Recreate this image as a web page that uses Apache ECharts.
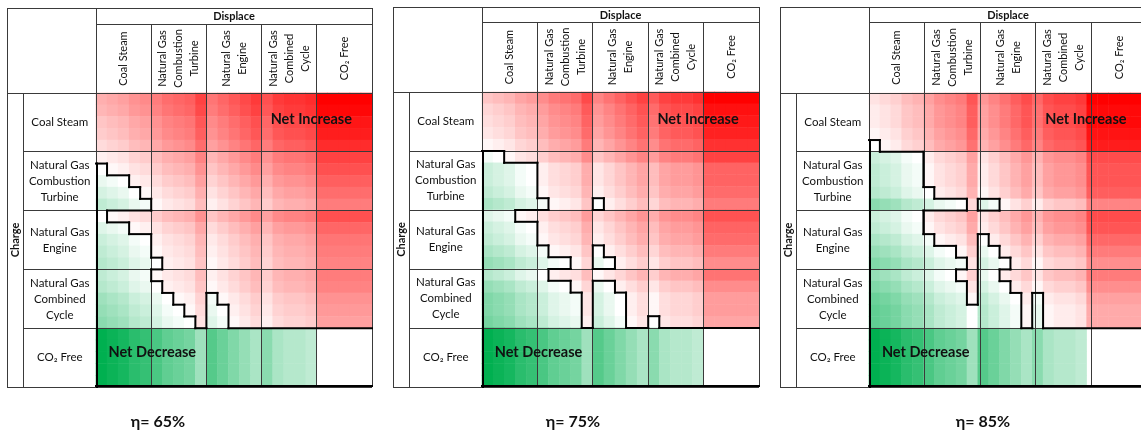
<!DOCTYPE html>
<html>
<head>
<meta charset="utf-8">
<script src="https://cdn.jsdelivr.net/npm/echarts@6/dist/echarts.min.js"></script>
<style>html,body{margin:0;padding:0;background:#fff}#c{width:1141px;height:436px}</style>
</head>
<body>
<div id="c"></div>
<script>
// ---- labels ----
const blockLabels = ['Coal Steam', 'Natural Gas\nCombustion\nTurbine', 'Natural Gas\nEngine', 'Natural Gas\nCombined\nCycle', 'CO\u2082 Free'];
const panelTitles = ['\u03b7= 65%', '\u03b7= 75%', '\u03b7= 85%'];
const displaceTitle = 'Displace';
const chargeTitle = 'Charge';
const increaseLabel = 'Net Increase';
const decreaseLabel = 'Net Decrease';

// ---- net CO2 change per sub-cell (0.05 t/MWh units), rows = charge, cols = displace ----
const co2Row = [-24,-23,-22,-20,-19,-17,-15,-14,-13,-9,-16,-14,-12,-10,-8,-11,-8,-7,-7,-6,null,null,null,null,null];

const grid65 = [
[11,12,13,15,16,18,20,21,22,26,19,21,23,25,27,24,27,28,28,29,35,35,35,35,35],
[10,11,12,14,15,17,19,20,21,25,18,20,22,24,26,23,26,27,27,28,34,34,34,34,34],
[8,9,10,12,13,15,17,18,19,23,16,18,20,22,24,21,24,25,25,26,32,32,32,32,32],
[7,8,9,11,12,14,16,17,18,22,15,17,19,21,23,20,23,24,24,25,31,31,31,31,31],
[5,6,7,9,10,12,14,15,16,20,13,15,17,19,21,18,21,22,22,23,29,29,29,29,29],
[2,3,4,6,7,9,11,12,13,17,10,12,14,16,18,15,18,19,19,20,26,26,26,26,26],
[0,1,2,4,5,7,9,10,11,15,8,10,12,14,16,13,16,17,17,18,24,24,24,24,24],
[-2,-1,0,2,3,5,7,8,9,13,6,8,10,12,14,11,14,15,15,16,22,22,22,22,22],
[-4,-3,-2,0,1,3,5,6,7,11,4,6,8,10,12,9,12,13,13,14,20,20,20,20,20],
[-6,-5,-4,-2,-1,1,3,4,5,9,2,4,6,8,10,7,10,11,11,12,18,18,18,18,18],
[0,1,2,4,5,7,9,10,11,15,8,10,12,14,16,13,16,17,17,18,24,24,24,24,24],
[-3,-2,-1,1,2,4,6,7,8,12,5,7,9,11,13,10,13,14,14,15,21,21,21,21,21],
[-5,-4,-3,-1,0,2,4,5,6,10,3,5,7,9,11,8,11,12,12,13,19,19,19,19,19],
[-6,-5,-4,-2,-1,1,3,4,5,9,2,4,6,8,10,7,10,11,11,12,18,18,18,18,18],
[-7,-6,-5,-3,-2,0,2,3,4,8,1,3,5,7,9,6,9,10,10,11,17,17,17,17,17],
[-6,-5,-4,-2,-1,1,3,4,5,9,2,4,6,8,10,7,10,11,11,12,18,18,18,18,18],
[-7,-6,-5,-3,-2,0,2,3,4,8,1,3,5,7,9,6,9,10,10,11,17,17,17,17,17],
[-9,-8,-7,-5,-4,-2,0,1,2,6,-1,1,3,5,7,4,7,8,8,9,15,15,15,15,15],
[-10,-9,-8,-6,-5,-3,-1,0,1,5,-2,0,2,4,6,3,6,7,7,8,14,14,14,14,14],
[-11,-10,-9,-7,-6,-4,-2,-1,0,4,-3,-1,1,3,5,2,5,6,6,7,13,13,13,13,13],
co2Row, co2Row, co2Row, co2Row, co2Row
];

const grid75 = [
[7,8,9,11,12,14,16,17,18,22,15,17,19,21,23,20,23,24,24,25,31,31,31,31,31],
[5,6,7,9,10,12,14,15,16,20,13,15,17,19,21,18,21,22,22,23,29,29,29,29,29],
[4,5,6,8,9,11,13,14,15,19,12,14,16,18,20,17,20,21,21,22,28,28,28,28,28],
[3,4,5,7,8,10,12,13,14,18,11,13,15,17,19,16,19,20,20,21,27,27,27,27,27],
[1,2,3,5,6,8,10,11,12,16,9,11,13,15,17,14,17,18,18,19,25,25,25,25,25],
[-1,0,1,3,4,6,8,9,10,14,7,9,11,13,15,12,15,16,16,17,23,23,23,23,23],
[-5,-4,-3,-1,0,2,4,5,6,10,3,5,7,9,11,8,11,12,12,13,19,19,19,19,19],
[-5,-4,-3,-1,0,2,4,5,6,10,3,5,7,9,11,8,11,12,12,13,19,19,19,19,19],
[-6,-5,-4,-2,-1,1,3,4,5,9,2,4,6,8,10,7,10,11,11,12,18,18,18,18,18],
[-8,-7,-6,-4,-3,-1,1,2,3,7,0,2,4,6,8,5,8,9,9,10,16,16,16,16,16],
[-3,-2,-1,1,2,4,6,7,8,12,5,7,9,11,13,10,13,14,14,15,21,21,21,21,21],
[-5,-4,-3,-1,0,2,4,5,6,10,3,5,7,9,11,8,11,12,12,13,19,19,19,19,19],
[-6,-5,-4,-2,-1,1,3,4,5,9,2,4,6,8,10,7,10,11,11,12,18,18,18,18,18],
[-8,-7,-6,-4,-3,-1,1,2,3,7,0,2,4,6,8,5,8,9,9,10,16,16,16,16,16],
[-10,-9,-8,-6,-5,-3,-1,0,1,5,-2,0,2,4,6,3,6,7,7,8,14,14,14,14,14],
[-7,-6,-5,-3,-2,0,2,3,4,8,1,3,5,7,9,6,9,10,10,11,17,17,17,17,17],
[-10,-9,-8,-6,-5,-3,-1,0,1,5,-2,0,2,4,6,3,6,7,7,8,14,14,14,14,14],
[-12,-11,-10,-8,-7,-5,-3,-2,-1,3,-4,-2,0,2,4,1,4,5,5,6,12,12,12,12,12],
[-12,-11,-10,-8,-7,-5,-3,-2,-1,3,-4,-2,0,2,4,1,4,5,5,6,12,12,12,12,12],
[-13,-12,-11,-9,-8,-6,-4,-3,-2,2,-5,-3,-1,1,3,0,3,4,4,5,11,11,11,11,11],
co2Row, co2Row, co2Row, co2Row, co2Row
];

const grid85 = [
[3,4,5,7,8,10,12,13,14,18,11,13,15,17,19,16,19,20,20,21,27,27,27,27,27],
[2,3,4,6,7,9,11,12,13,17,10,12,14,16,18,15,18,19,19,20,26,26,26,26,26],
[2,3,4,6,7,9,11,12,13,17,10,12,14,16,18,15,18,19,19,20,26,26,26,26,26],
[1,2,3,5,6,8,10,11,12,16,9,11,13,15,17,14,17,18,18,19,25,25,25,25,25],
[0,1,2,4,5,7,9,10,11,15,8,10,12,14,16,13,16,17,17,18,24,24,24,24,24],
[-5,-4,-3,-1,0,2,4,5,6,10,3,5,7,9,11,8,11,12,12,13,19,19,19,19,19],
[-6,-5,-4,-2,-1,1,3,4,5,9,2,4,6,8,10,7,10,11,11,12,18,18,18,18,18],
[-6,-5,-4,-2,-1,1,3,4,5,9,2,4,6,8,10,7,10,11,11,12,18,18,18,18,18],
[-7,-6,-5,-3,-2,0,2,3,4,8,1,3,5,7,9,6,9,10,10,11,17,17,17,17,17],
[-11,-10,-9,-7,-6,-4,-2,-1,0,4,-3,-1,1,3,5,2,5,6,6,7,13,13,13,13,13],
[-5,-4,-3,-1,0,2,4,5,6,10,3,5,7,9,11,8,11,12,12,13,19,19,19,19,19],
[-6,-5,-4,-2,-1,1,3,4,5,9,2,4,6,8,10,7,10,11,11,12,18,18,18,18,18],
[-8,-7,-6,-4,-3,-1,1,2,3,7,0,2,4,6,8,5,8,9,9,10,16,16,16,16,16],
[-10,-9,-8,-6,-5,-3,-1,0,1,5,-2,0,2,4,6,3,6,7,7,8,14,14,14,14,14],
[-12,-11,-10,-8,-7,-5,-3,-2,-1,3,-4,-2,0,2,4,1,4,5,5,6,12,12,12,12,12],
[-10,-9,-8,-6,-5,-3,-1,0,1,5,-2,0,2,4,6,3,6,7,7,8,14,14,14,14,14],
[-12,-11,-10,-8,-7,-5,-3,-2,-1,3,-4,-2,0,2,4,1,4,5,5,6,12,12,12,12,12],
[-14,-13,-12,-10,-9,-7,-5,-4,-3,1,-6,-4,-2,0,2,-1,2,3,3,4,10,10,10,10,10],
[-15,-14,-13,-11,-10,-8,-6,-5,-4,0,-7,-5,-3,-1,1,-2,1,2,2,3,9,9,9,9,9],
[-15,-14,-13,-11,-10,-8,-6,-5,-4,0,-7,-5,-3,-1,1,-2,1,2,2,3,9,9,9,9,9],
co2Row, co2Row, co2Row, co2Row, co2Row
];

const panelGrids = [grid65, grid75, grid85];

// ---- layout (px) ----
const PANEL_LEFT = [7, 393, 780];
const PANEL_TOP = [8, 7, 7];
const DISP_LINE = [24, 22, 22];
const HEAD_BOTTOM = [93, 92, 93];
const TABLE_BOTTOM = [387, 387, 387];
const GRID_W = [276, 277, 278];
const LABEL_W = 89, CHARGE_W = 16.5;
const TITLE_X = [158, 573, 983], TITLE_Y = 422;
const FONT = "Lato, 'Liberation Sans', sans-serif";
const LINE_COLOR = '#3a3a3a';
const N = 25, NB = 5;

const chart = echarts.init(document.getElementById('c'));
const idx = Array.from({length: N}, (_, i) => i);
const crisp = c => Math.round(c - 0.5) + 0.5;

const elements = [];
function L(x1, y1, x2, y2) {
  elements.push({type: 'line', z: 10, silent: true,
    shape: {x1, y1, x2, y2}, style: {stroke: LINE_COLOR, lineWidth: 1}});
}
function T(x, y, text, font, rot, lh) {
  elements.push({type: 'text', z: 30, silent: true, x, y, rotation: rot || 0,
    style: {text, font, fill: '#111', align: 'center', verticalAlign: 'middle',
      textAlign: 'center', textVerticalAlign: 'middle', lineHeight: lh || 16}});
}

// sign boundaries, merged into runs
function edgesOf(g) {
  const side = (i, j) => (g[i][j] !== null && g[i][j] > 0) ? 1 : 0;
  const out = [];
  for (let b = 1; b <= N; b++) {           // bottom of row b-1
    let start = -1;
    for (let j = 0; j <= N; j++) {
      let on = false;
      if (j < N) on = side(b - 1, j) !== (b < N ? side(b, j) : 1);
      if (on && start < 0) start = j;
      if (!on && start >= 0) { out.push([start, b - 1, 0, j]); start = -1; }
    }
  }
  for (let b = 0; b < N; b++) {            // left of column b
    let start = -1;
    for (let i = 0; i <= N; i++) {
      let on = false;
      if (i < N) on = (b === 0 ? 1 : side(i, b - 1)) !== side(i, b);
      if (on && start < 0) start = i;
      if (!on && start >= 0) { out.push([b, start, 1, i]); start = -1; }
    }
  }
  return out;
}

function renderEdge(params, api) {
  const a = api.value(0), b = api.value(1), k = api.value(2), e = api.value(3);
  const p = api.coord([a, b]);
  const s = api.size([1, 1]);
  const x0 = p[0] - s[0] / 2, y0 = p[1] - s[1] / 2;
  let shape;
  if (k === 0) {
    let y = y0 + s[1];
    if (b === N - 1) y -= 1;               // keep the outer edge inside the grid
    shape = {x1: x0, y1: y, x2: x0 + (e - a) * s[0], y2: y};
  } else {
    let x = x0;
    if (a === 0) x += 1;
    shape = {x1: x, y1: y0, x2: x, y2: y0 + (e - b) * s[1]};
  }
  return {type: 'line', shape, style: {stroke: '#000', lineWidth: 2, lineCap: 'square'}};
}

const option = {
  animation: false,
  backgroundColor: '#fff',
  grid: [], xAxis: [], yAxis: [], series: [],
  visualMap: [{
    type: 'continuous', show: false, dimension: 3, min: -1, max: 1,
    seriesIndex: [0, 1, 2],
    inRange: {color: ['#00B050', '#FFFFFF', '#FF0000']}
  }],
  graphic: {elements}
};

const customs = [];
panelGrids.forEach((g, p) => {
  const px = PANEL_LEFT[p];
  const gl = px + LABEL_W, gt = HEAD_BOTTOM[p], gw = GRID_W[p];
  const gb = TABLE_BOTTOM[p], gh = gb - gt, gr = gl + gw;
  option.grid.push({left: gl, top: gt, width: gw, height: gh});
  option.xAxis.push({type: 'category', gridIndex: p, data: idx, show: false});
  option.yAxis.push({type: 'category', gridIndex: p, data: idx, show: false, inverse: true});

  let vmax = 0, vmin = 0;
  g.forEach(r => r.forEach(v => { if (v !== null) { vmax = Math.max(vmax, v); vmin = Math.min(vmin, v); } }));
  const cells = [];
  g.forEach((r, i) => r.forEach((v, j) => {
    if (v !== null) cells.push([j, i, v, v > 0 ? v / vmax : v / -vmin]);
  }));
  option.series.push({type: 'heatmap', xAxisIndex: p, yAxisIndex: p, data: cells,
    progressive: 0, silent: true, itemStyle: {borderWidth: 0}, z: 2});
  customs.push({type: 'custom', xAxisIndex: p, yAxisIndex: p, data: edgesOf(g),
    renderItem: renderEdge, encode: {x: 0, y: 1}, silent: true, clip: false,
    zlevel: 1, z: 20});

  // table frame
  const top = PANEL_TOP[p];
  L(crisp(px), top, crisp(px), gb);
  L(px, crisp(top), gr, crisp(top));
  L(px, crisp(gb), gr, crisp(gb));
  L(crisp(gr), top, crisp(gr), gb);
  L(crisp(gl), top, crisp(gl), gb);
  L(gl, crisp(DISP_LINE[p]), gr, crisp(DISP_LINE[p]));
  L(px, crisp(gt), gr, crisp(gt));
  L(crisp(px + CHARGE_W), gt, crisp(px + CHARGE_W), gb);
  const bw = gw / NB, bh = gh / NB;
  for (let k = 1; k < NB; k++) {
    L(crisp(gl + k * bw), DISP_LINE[p], crisp(gl + k * bw), gb);
    L(px + CHARGE_W, crisp(gt + k * bh), gr, crisp(gt + k * bh));
  }
  // texts
  T(gl + gw / 2, (top + DISP_LINE[p]) / 2 + 0.5, displaceTitle, 'bold 11px ' + FONT);
  T(px + CHARGE_W / 2 + 0.5, (gt + gb) / 2, chargeTitle, 'bold 11px ' + FONT, Math.PI / 2);
  blockLabels.forEach((lab, k) => {
    T(gl + (k + 0.5) * bw, (DISP_LINE[p] + gt) / 2, lab, '11px ' + FONT, Math.PI / 2, 16);
    T(px + (CHARGE_W + LABEL_W) / 2, gt + (k + 0.5) * bh, lab, '11.5px ' + FONT, 0, 16);
  });
  T(gl + 3.9 * bw, 119.5, increaseLabel, 'bold 14.5px ' + FONT);
  T(gl + 1.02 * bw, 352, decreaseLabel, 'bold 14.5px ' + FONT);
  T(TITLE_X[p], TITLE_Y, panelTitles[p], 'bold 16px ' + FONT);
});
option.series = option.series.concat(customs);

chart.setOption(option);
</script>
</body>
</html>
